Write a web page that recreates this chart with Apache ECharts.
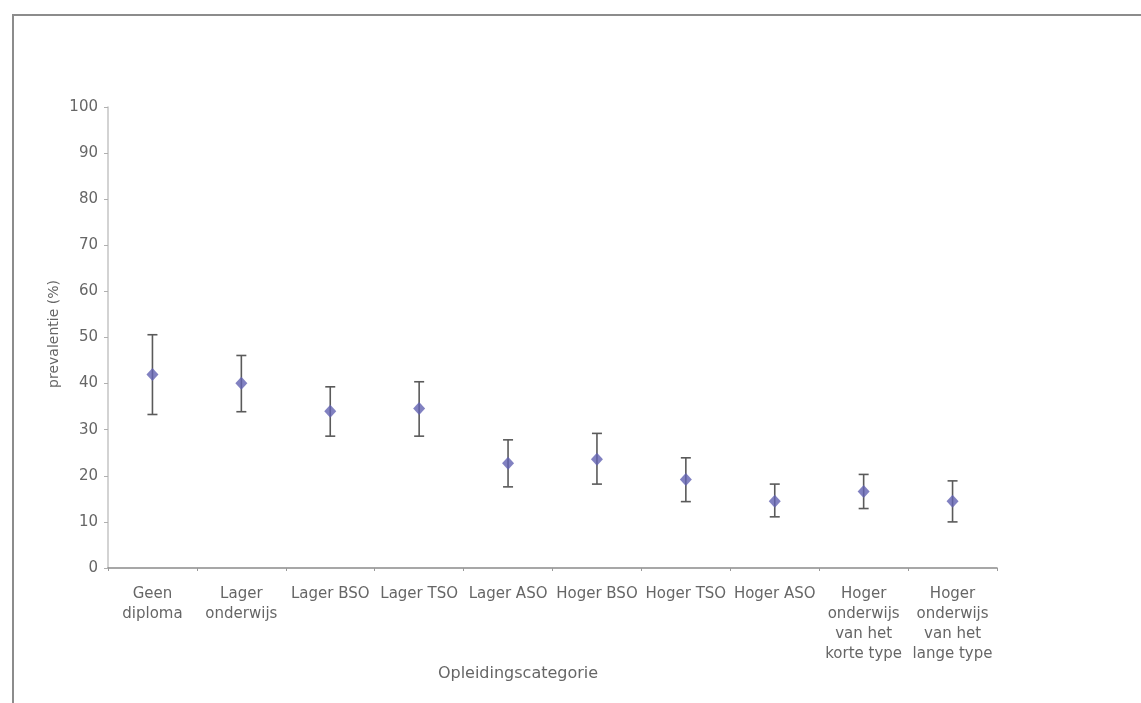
<!DOCTYPE html>
<html>
<head>
<meta charset="utf-8">
<title>Prevalentie naar opleidingscategorie</title>
<script src="https://cdn.jsdelivr.net/npm/echarts@6/dist/echarts.min.js"></script>
<style>
  html, body { margin: 0; padding: 0; background: #fff; }
  #chart { width: 1141px; height: 703px; }
</style>
</head>
<body>
<div id="chart"></div>
<script>
// Opleidingscategorieën (x-as)
const categories = [
  'Geen\ndiploma',
  'Lager\nonderwijs',
  'Lager BSO',
  'Lager TSO',
  'Lager ASO',
  'Hoger BSO',
  'Hoger TSO',
  'Hoger ASO',
  'Hoger\nonderwijs\nvan het\nkorte type',
  'Hoger\nonderwijs\nvan het\nlange type'
];

// Prevalentie (%) met 95%-betrouwbaarheidsinterval
const prevalence = [42.0, 40.1, 34.0, 34.6, 22.7, 23.6, 19.2, 14.5, 16.6, 14.5];
const lowerCI    = [33.3, 33.9, 28.6, 28.6, 17.6, 18.2, 14.4, 11.1, 12.9, 10.0];
const upperCI    = [50.6, 46.1, 39.3, 40.4, 27.8, 29.2, 23.9, 18.2, 20.3, 18.9];

// Y-as ticks
const yTicks = [0, 10, 20, 30, 40, 50, 60, 70, 80, 90, 100];

const textColor = '#666';
const fontFamily = '"DejaVu Sans", "Open Sans", sans-serif';

const errorData = categories.map((c, i) => [i, lowerCI[i], upperCI[i]]);

const chart = echarts.init(document.getElementById('chart'), null, { renderer: 'canvas' });

chart.setOption({
  backgroundColor: '#fff',
  animation: false,
  textStyle: { fontFamily: fontFamily },
  grid: { left: 108, right: 144, top: 107, bottom: 135, containLabel: false },
  xAxis: {
    type: 'category',
    data: categories,
    boundaryGap: true,
    axisLine: { show: true, lineStyle: { color: '#8a8a8a', width: 1.5 } },
    axisTick: { show: true, length: 3, lineStyle: { color: '#9a9a9a' } },
    axisLabel: {
      interval: 0,
      color: textColor,
      fontSize: 15,
      lineHeight: 20,
      margin: 16,
      fontFamily: fontFamily
    },
    splitLine: { show: false }
  },
  yAxis: {
    type: 'value',
    min: yTicks[0],
    max: yTicks[yTicks.length - 1],
    interval: yTicks[1] - yTicks[0],
    axisLine: { show: true, lineStyle: { color: '#c4c4c4', width: 1.5 } },
    axisTick: { show: true, length: 4, lineStyle: { color: '#b0b0b0' } },
    axisLabel: { color: textColor, fontSize: 15, margin: 10, fontFamily: fontFamily },
    splitLine: { show: false }
  },
  graphic: [
    // kader rond de figuur
    {
      type: 'polyline',
      shape: { points: [[13, 703], [13, 15], [1141, 15]] },
      style: { stroke: '#8c8c8c', lineWidth: 2, fill: null },
      silent: true
    },
    // titel van de y-as
    {
      type: 'text',
      x: 54, y: 334,
      rotation: Math.PI / 2,
      style: {
        text: 'prevalentie (%)',
        fill: textColor,
        font: '14px ' + fontFamily,
        align: 'center',
        verticalAlign: 'middle'
      }
    },
    // titel van de x-as
    {
      type: 'text',
      x: 518, y: 674,
      style: {
        text: 'Opleidingscategorie',
        fill: textColor,
        font: '16px ' + fontFamily,
        align: 'center',
        verticalAlign: 'middle'
      }
    }
  ],
  series: [
    {
      // betrouwbaarheidsintervallen
      type: 'custom',
      data: errorData,
      encode: { x: 0, y: [1, 2] },
      z: 2,
      renderItem: function (params, api) {
        const idx = api.value(0);
        const lo = api.coord([idx, api.value(1)]);
        const hi = api.coord([idx, api.value(2)]);
        const half = 5;
        const style = { stroke: '#5a5a5a', lineWidth: 1.6 };
        return {
          type: 'group',
          children: [
            { type: 'line', shape: { x1: lo[0], y1: lo[1], x2: hi[0], y2: hi[1] }, style: style },
            { type: 'line', shape: { x1: lo[0] - half, y1: lo[1], x2: lo[0] + half, y2: lo[1] }, style: style },
            { type: 'line', shape: { x1: hi[0] - half, y1: hi[1], x2: hi[0] + half, y2: hi[1] }, style: style }
          ]
        };
      }
    },
    {
      // puntschattingen
      type: 'scatter',
      data: prevalence,
      symbol: 'diamond',
      symbolSize: [12, 13],
      z: 3,
      itemStyle: { color: '#6262b2' }
    }
  ]
});
</script>
</body>
</html>
